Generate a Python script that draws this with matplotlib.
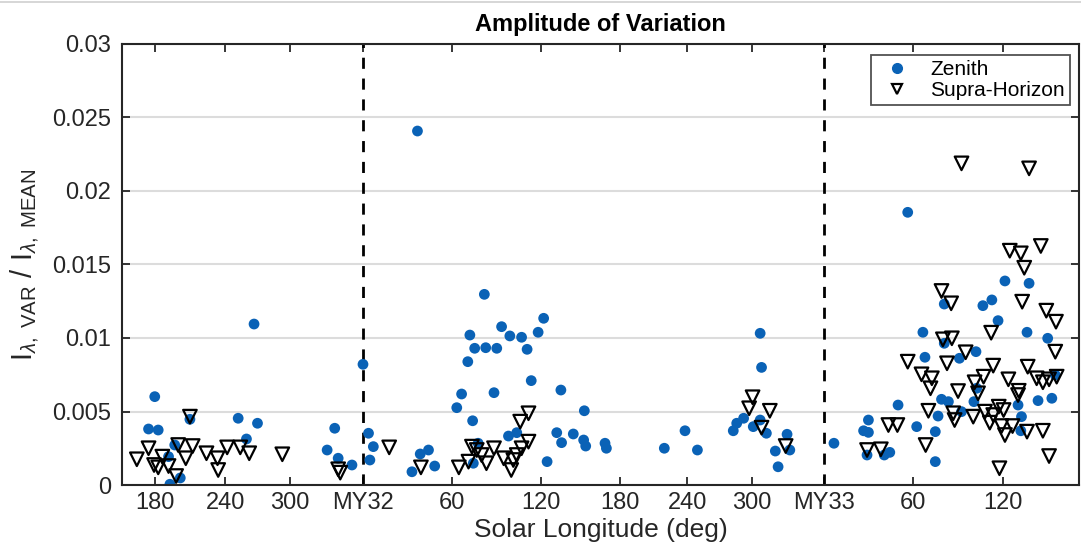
import matplotlib
matplotlib.use("Agg")
import matplotlib.pyplot as plt
from matplotlib.lines import Line2D

plt.rcParams['font.family'] = ['Liberation Sans', 'DejaVu Sans']
plt.rcParams['mathtext.fontset'] = 'custom'
plt.rcParams['mathtext.rm'] = 'Liberation Sans'
plt.rcParams['mathtext.it'] = 'Liberation Sans:italic'

# x values are sols relative to the start of MY32 (Ls = 0)
tick_pos = [-302, -200, -106, 0, 129, 258, 373, 470, 564, 669, 797, 928]
tick_labels = ['180', '240', '300', 'MY32', '60', '120', '180', '240', '300', 'MY33', '60', '120']
year_starts = [0, 669]

zenith_x = [-302, -311, -297, -251, -181, -153, -169, -282, -273, -280, -265, -158,
            0, -41, -52, -36, -16, 8, 15, 10, 71, 79, 176, 201, 262, 254, 155, 213,
            230, 162, 178, 194, 238, 152, 244, 143, 190, 287, 136, 159, 321, 95, 83,
            104, 211, 223, 281, 288, 305, 320, 323, 267, 167, 160, 351, 353, 437, 467,
            485, 537, 542, 552, 576, 578, 566, 576, 585, 598, 602, 615, 619, 683, 726,
            733, 733, 731, 756, 764, 776, 803, 812, 815, 830, 834, 830, 839, 849, 843,
            843, 865, 868, 886, 889, 890, 899, 912, 921, 931, 950, 955, 954, 963, 966,
            979, 993, 999, 1004, 790]
zenith_y = [0.00601, 0.00381, 0.00374, 0.00447, 0.00454, 0.00420, 0.00313, 0.00193,
            0.00272, 0.00005, 0.00048, 0.01095, 0.00821, 0.00386, 0.00238, 0.00182,
            0.00136, 0.00352, 0.00261, 0.00170, 0.00090, 0.02408, 0.01297, 0.01077,
            0.01134, 0.01039, 0.01020, 0.01014, 0.01005, 0.00930, 0.00934, 0.00930,
            0.00923, 0.00839, 0.00710, 0.00619, 0.00628, 0.00646, 0.00526, 0.00437,
            0.00505, 0.00238, 0.00211, 0.00129, 0.00333, 0.00356, 0.00356, 0.00288,
            0.00347, 0.00306, 0.00265, 0.00159, 0.00284, 0.00148, 0.00284, 0.00250,
            0.00250, 0.00369, 0.00238, 0.00369, 0.00420, 0.00454, 0.01032, 0.00800,
            0.00397, 0.00442, 0.00352, 0.00231, 0.00124, 0.00345, 0.00238, 0.00284,
            0.00369, 0.00442, 0.00358, 0.00204, 0.00204, 0.00222, 0.00544, 0.00397,
            0.01039, 0.00869, 0.00363, 0.00469, 0.00159, 0.00583, 0.00567, 0.00964,
            0.01231, 0.00862, 0.00499, 0.00567, 0.00907, 0.00658, 0.01220, 0.01259,
            0.01118, 0.01388, 0.00544, 0.00465, 0.00369, 0.01039, 0.01372, 0.00574,
            0.00998, 0.00590, 0.00748, 0.01855]

supra_x = [-328, -311, -303, -297, -291, -282, -271, -268, -257, -251, -247, -227,
           -211, -210, -197, -178, -165, -117, -36, -33, 38, 84, 139, 153, 158, 165,
           172, 179, 190, 204, 215, 218, 223, 228, 230, 240, 240, 565, 560, 590, 578,
           613, 868, 966, 938, 954, 959, 983, 839, 853, 956, 991, 1005, 911, 841, 854,
           874, 1004, 790, 847, 914, 964, 810, 825, 823, 863, 887, 900, 936, 951, 950,
           977, 986, 995, 1006, 892, 820, 856, 858, 885, 902, 914, 922, 929, 909, 926,
           931, 942, 963, 986, 762, 775, 816, 731, 751, 995, 923]
supra_y = [0.00175, 0.00250, 0.00136, 0.00120, 0.00193, 0.00129, 0.00061, 0.00272,
           0.00182, 0.00465, 0.00265, 0.00216, 0.00182, 0.00102, 0.00256, 0.00256,
           0.00216, 0.00209, 0.00107, 0.00084, 0.00256, 0.00120, 0.00120, 0.00159,
           0.00261, 0.00238, 0.00204, 0.00148, 0.00250, 0.00182, 0.00102, 0.00170,
           0.00204, 0.00431, 0.00250, 0.00488, 0.00295, 0.00597, 0.00522, 0.00505,
           0.00390, 0.00265, 0.02188, 0.02154, 0.01594, 0.01576, 0.01478, 0.01626,
           0.01320, 0.01236, 0.01247, 0.01186, 0.01111, 0.01036, 0.00991, 0.00998,
           0.00903, 0.00907, 0.00839, 0.00828, 0.00812, 0.00805, 0.00753, 0.00726,
           0.00658, 0.00639, 0.00699, 0.00737, 0.00719, 0.00641, 0.00612, 0.00726,
           0.00699, 0.00719, 0.00737, 0.00624, 0.00505, 0.00488, 0.00442, 0.00465,
           0.00499, 0.00476, 0.00533, 0.00510, 0.00424, 0.00401, 0.00340, 0.00401,
           0.00363, 0.00369, 0.00408, 0.00408, 0.00272, 0.00238, 0.00243, 0.00197,
           0.00114]

y_ticks = [0, 0.005, 0.01, 0.015, 0.02, 0.025, 0.03]
y_tick_labels = ['0', '0.005', '0.01', '0.015', '0.02', '0.025', '0.03']

blue = '#0a62b6'
dark = '#262626'

fig = plt.figure(figsize=(10.81, 5.53), dpi=100)
fig.add_artist(Line2D([0, 1], [0.997, 0.997], color='#d0d0d0', linewidth=1.2,
                      transform=fig.transFigure))
ax = fig.add_axes([122 / 1081, 68 / 553, (1079 - 122) / 1081, (485 - 44) / 553])

ax.set_xlim(-349.5, 1038.4)
ax.set_ylim(0, 0.03)

ax.yaxis.grid(True, color='#dcdcdc', linewidth=1.5, zorder=0)
ax.set_axisbelow(True)

for xs in year_starts:
    ax.axvline(xs, color='black', linestyle=(0, (4, 3.5)), linewidth=2, zorder=1)

ax.scatter(zenith_x, zenith_y, s=60, color=blue, edgecolors='none', zorder=2)
ax.scatter(supra_x, supra_y, s=95, marker='v', facecolors='none',
           edgecolors='black', linewidths=1.6, zorder=3)

ax.set_xticks(tick_pos)
ax.set_xticklabels(tick_labels)
ax.set_yticks(y_ticks)
ax.set_yticklabels(y_tick_labels)
ax.tick_params(direction='in', length=6, width=1.3, colors=dark, labelsize=17,
               top=True, right=True, labelcolor=dark)
ax.tick_params(axis='x', pad=5)
ax.tick_params(axis='y', pad=8)
for sp in ax.spines.values():
    sp.set_color(dark)
    sp.set_linewidth(1.5)

ax.set_title('Amplitude of Variation', fontsize=17, fontweight='bold', pad=9)
ax.set_xlabel('Solar Longitude (deg)', fontsize=19, color=dark, labelpad=3)
ax.set_ylabel(r'I$_{\lambda,\ \mathrm{VAR}}$ / I$_{\lambda,\ \mathrm{MEAN}}$',
              fontsize=21, color=dark, labelpad=8)

handles = [Line2D([], [], marker='o', linestyle='none', color=blue, markersize=7),
           Line2D([], [], marker='v', linestyle='none', markerfacecolor='none',
                  markeredgecolor='black', markeredgewidth=1.6, markersize=7)]
leg = ax.legend(handles, ['Zenith', 'Supra-Horizon'], loc='upper right',
                bbox_to_anchor=(0.9906, 0.9755), fontsize=15, frameon=True,
                fancybox=False, edgecolor=dark, borderpad=0.25, labelspacing=0.1,
                handletextpad=0.6, handlelength=2.0, borderaxespad=0)
leg.get_frame().set_linewidth(1.3)

fig.savefig('out.png', dpi=100)
